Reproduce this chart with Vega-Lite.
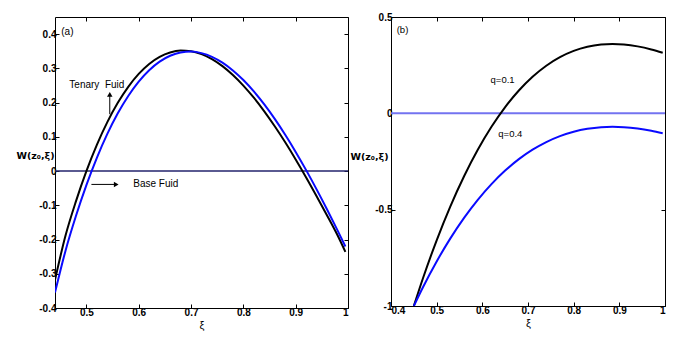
{
  "$schema": "https://vega.github.io/schema/vega-lite/v6.json",
  "background": "white",
  "padding": {"left": 15, "top": 11, "right": 5, "bottom": 5},
  "bounds": "flush",
  "spacing": 43,
  "config": {
    "view": {"stroke": "black", "strokeWidth": 1},
    "axis": {"domain": false, "grid": false, "tickColor": "black", "tickSize": -4, "labelFont": "Liberation Sans", "labelFontSize": 10, "labelFontWeight": "bold", "labelColor": "black", "labelPadding": 3, "titleFont": "Liberation Sans", "titleColor": "black"},
    "text": {"font": "Liberation Sans", "color": "black"}
  },
  "datasets": {
    "left": [
      {"x": 0.44, "y": -0.318, "s": "ternary"}, {"x": 0.46, "y": -0.189, "s": "ternary"}, {"x": 0.48, "y": -0.0884, "s": "ternary"}, {"x": 0.50, "y": 0, "s": "ternary"}, {"x": 0.52, "y": 0.0766, "s": "ternary"}, {"x": 0.54, "y": 0.1429, "s": "ternary"}, {"x": 0.56, "y": 0.1993, "s": "ternary"}, {"x": 0.58, "y": 0.2461, "s": "ternary"}, {"x": 0.60, "y": 0.2838, "s": "ternary"}, {"x": 0.62, "y": 0.3129, "s": "ternary"}, {"x": 0.64, "y": 0.3336, "s": "ternary"}, {"x": 0.66, "y": 0.3464, "s": "ternary"}, {"x": 0.68, "y": 0.3518, "s": "ternary"}, {"x": 0.70, "y": 0.3501, "s": "ternary"}, {"x": 0.72, "y": 0.3417, "s": "ternary"}, {"x": 0.74, "y": 0.3271, "s": "ternary"}, {"x": 0.76, "y": 0.3066, "s": "ternary"}, {"x": 0.78, "y": 0.2807, "s": "ternary"}, {"x": 0.80, "y": 0.2497, "s": "ternary"}, {"x": 0.82, "y": 0.2142, "s": "ternary"}, {"x": 0.84, "y": 0.1744, "s": "ternary"}, {"x": 0.86, "y": 0.1308, "s": "ternary"}, {"x": 0.88, "y": 0.0839, "s": "ternary"}, {"x": 0.90, "y": 0.0339, "s": "ternary"}, {"x": 0.92, "y": -0.0186, "s": "ternary"}, {"x": 0.94, "y": -0.0734, "s": "ternary"}, {"x": 0.96, "y": -0.1298, "s": "ternary"}, {"x": 0.98, "y": -0.1877, "s": "ternary"}, {"x": 0.995, "y": -0.236, "s": "ternary"},
      {"x": 0.44, "y": -0.355, "s": "base"}, {"x": 0.46, "y": -0.2332, "s": "base"}, {"x": 0.48, "y": -0.1314, "s": "base"}, {"x": 0.50, "y": -0.0412, "s": "base"}, {"x": 0.52, "y": 0.0386, "s": "base"}, {"x": 0.54, "y": 0.1084, "s": "base"}, {"x": 0.56, "y": 0.1686, "s": "base"}, {"x": 0.58, "y": 0.2194, "s": "base"}, {"x": 0.60, "y": 0.2613, "s": "base"}, {"x": 0.62, "y": 0.2946, "s": "base"}, {"x": 0.64, "y": 0.3197, "s": "base"}, {"x": 0.66, "y": 0.3369, "s": "base"}, {"x": 0.68, "y": 0.3465, "s": "base"}, {"x": 0.70, "y": 0.3489, "s": "base"}, {"x": 0.72, "y": 0.3445, "s": "base"}, {"x": 0.74, "y": 0.3337, "s": "base"}, {"x": 0.76, "y": 0.3167, "s": "base"}, {"x": 0.78, "y": 0.2939, "s": "base"}, {"x": 0.80, "y": 0.2658, "s": "base"}, {"x": 0.82, "y": 0.2325, "s": "base"}, {"x": 0.84, "y": 0.1946, "s": "base"}, {"x": 0.86, "y": 0.1523, "s": "base"}, {"x": 0.88, "y": 0.1060, "s": "base"}, {"x": 0.90, "y": 0.0560, "s": "base"}, {"x": 0.92, "y": 0.0027, "s": "base"}, {"x": 0.94, "y": -0.0535, "s": "base"}, {"x": 0.96, "y": -0.1123, "s": "base"}, {"x": 0.98, "y": -0.1733, "s": "base"}, {"x": 0.995, "y": -0.2203, "s": "base"}
    ],
    "leftZero": [{"x": 0.44, "y": 0}, {"x": 1, "y": 0}],
    "leftText": [
      {"x": 0.452, "y": 0.405, "label": "(a)"},
      {"x": 0.4674, "y": 0.251, "label": "Tenary\u00a0 Fuid"},
      {"x": 0.5895, "y": -0.039, "label": "Base Fuid"}
    ],
    "leftArrows": [
      {"x": 0.5447, "y": 0.166, "x2": 0.5447, "y2": 0.222},
      {"x": 0.5096, "y": -0.039, "x2": 0.556, "y2": -0.039}
    ],
    "leftHeads": [
      {"x": 0.5447, "y": 0.224, "dir": "up"},
      {"x": 0.557, "y": -0.039, "dir": "right"}
    ],
    "right": [
      {"x": 0.45, "y": -1.0, "q": "q=0.1"}, {"x": 0.47, "y": -0.8562, "q": "q=0.1"}, {"x": 0.50, "y": -0.6589, "q": "q=0.1"}, {"x": 0.53, "y": -0.4826, "q": "q=0.1"}, {"x": 0.56, "y": -0.3264, "q": "q=0.1"}, {"x": 0.59, "y": -0.1892, "q": "q=0.1"}, {"x": 0.62, "y": -0.0700, "q": "q=0.1"}, {"x": 0.65, "y": 0.0323, "q": "q=0.1"}, {"x": 0.68, "y": 0.1185, "q": "q=0.1"}, {"x": 0.71, "y": 0.1898, "q": "q=0.1"}, {"x": 0.74, "y": 0.2471, "q": "q=0.1"}, {"x": 0.77, "y": 0.2914, "q": "q=0.1"}, {"x": 0.80, "y": 0.3239, "q": "q=0.1"}, {"x": 0.83, "y": 0.3455, "q": "q=0.1"}, {"x": 0.86, "y": 0.3571, "q": "q=0.1"}, {"x": 0.885, "y": 0.36, "q": "q=0.1"}, {"x": 0.91, "y": 0.3573, "q": "q=0.1"}, {"x": 0.94, "y": 0.3475, "q": "q=0.1"}, {"x": 0.97, "y": 0.3316, "q": "q=0.1"}, {"x": 0.995, "y": 0.3143, "q": "q=0.1"},
      {"x": 0.45, "y": -1.0, "q": "q=0.4"}, {"x": 0.47, "y": -0.9027, "q": "q=0.4"}, {"x": 0.50, "y": -0.7689, "q": "q=0.4"}, {"x": 0.53, "y": -0.6491, "q": "q=0.4"}, {"x": 0.56, "y": -0.5427, "q": "q=0.4"}, {"x": 0.59, "y": -0.4490, "q": "q=0.4"}, {"x": 0.62, "y": -0.3674, "q": "q=0.4"}, {"x": 0.65, "y": -0.2973, "q": "q=0.4"}, {"x": 0.68, "y": -0.2379, "q": "q=0.4"}, {"x": 0.71, "y": -0.1887, "q": "q=0.4"}, {"x": 0.74, "y": -0.1490, "q": "q=0.4"}, {"x": 0.77, "y": -0.1181, "q": "q=0.4"}, {"x": 0.80, "y": -0.0954, "q": "q=0.4"}, {"x": 0.83, "y": -0.0803, "q": "q=0.4"}, {"x": 0.86, "y": -0.0720, "q": "q=0.4"}, {"x": 0.885, "y": -0.07, "q": "q=0.4"}, {"x": 0.91, "y": -0.0719, "q": "q=0.4"}, {"x": 0.94, "y": -0.0789, "q": "q=0.4"}, {"x": 0.97, "y": -0.0905, "q": "q=0.4"}, {"x": 0.995, "y": -0.1031, "q": "q=0.4"}
    ],
    "rightZero": [{"x": 0.4, "y": 0}, {"x": 1, "y": 0}],
    "rightText": [
      {"x": 0.4125, "y": 0.433, "label": "(b)"},
      {"x": 0.618, "y": 0.1715, "label": "q=0.1"},
      {"x": 0.635, "y": -0.109, "label": "q=0.4"}
    ]
  },
  "hconcat": [
    {
      "width": 293,
      "height": 291,
      "resolve": {"axis": {"x": "independent", "y": "independent"}},
      "layer": [
        {
          "data": {"name": "leftZero"},
          "mark": {"type": "line", "color": "#23236c", "strokeWidth": 1.5},
          "encoding": {
            "x": {"field": "x", "type": "quantitative", "scale": {"domain": [0.44, 1], "nice": false, "zero": false}, "axis": {"orient": "top", "values": [0.5, 0.6, 0.7, 0.8, 0.9, 1], "labels": false, "title": null}},
            "y": {"field": "y", "type": "quantitative", "scale": {"domain": [-0.4, 0.45], "nice": false}, "axis": {"orient": "right", "values": [-0.4, -0.3, -0.2, -0.1, 0, 0.1, 0.2, 0.3, 0.4], "labels": false, "title": null}}
          }
        },
        {
          "data": {"name": "left"},
          "mark": {"type": "line", "strokeWidth": 2, "interpolate": "monotone", "clip": true},
          "encoding": {
            "x": {"field": "x", "type": "quantitative", "axis": {"values": [0.5, 0.6, 0.7, 0.8, 0.9, 1], "labelExpr": "(datum.value < 0 ? '-' : '') + format(abs(datum.value), '~g')", "title": "ξ", "titleFontSize": 11, "titleFontWeight": "normal", "titlePadding": 2}},
            "y": {"field": "y", "type": "quantitative", "axis": {"values": [-0.4, -0.3, -0.2, -0.1, 0, 0.1, 0.2, 0.3, 0.4], "labelExpr": "(datum.value < 0 ? '-' : '') + format(abs(datum.value), '~g')", "title": "W(z₀,ξ)", "titleFont": "DejaVu Sans", "titleAngle": 0, "titleAlign": "left", "titleBaseline": "middle", "titleX": -39, "titleY": 138, "titleFontSize": 9.5, "titleFontWeight": "bold"}},
            "color": {"field": "s", "type": "nominal", "scale": {"domain": ["ternary", "base"], "range": ["#000000", "#0a0aff"]}, "legend": null}
          }
        },
        {
          "data": {"name": "leftArrows"},
          "mark": {"type": "rule", "color": "black", "strokeWidth": 1},
          "encoding": {
            "x": {"field": "x", "type": "quantitative", "axis": null},
            "y": {"field": "y", "type": "quantitative", "axis": null},
            "x2": {"field": "x2"},
            "y2": {"field": "y2"}
          }
        },
        {
          "data": {"name": "leftHeads"},
          "mark": {"type": "point", "filled": true, "color": "black", "size": 30, "opacity": 1},
          "encoding": {
            "x": {"field": "x", "type": "quantitative", "axis": null},
            "y": {"field": "y", "type": "quantitative", "axis": null},
            "shape": {"field": "dir", "type": "nominal", "scale": {"domain": ["up", "right"], "range": ["triangle-up", "triangle-right"]}, "legend": null}
          }
        },
        {
          "data": {"name": "leftText"},
          "mark": {"type": "text", "align": "left", "baseline": "middle", "fontSize": 10},
          "encoding": {
            "x": {"field": "x", "type": "quantitative", "axis": null},
            "y": {"field": "y", "type": "quantitative", "axis": null},
            "text": {"field": "label"}
          }
        }
      ]
    },
    {
      "width": 274,
      "height": 289,
      "resolve": {"axis": {"x": "independent", "y": "independent"}},
      "layer": [
        {
          "data": {"name": "rightZero"},
          "mark": {"type": "line", "color": "#7373f0", "strokeWidth": 2},
          "encoding": {
            "x": {"field": "x", "type": "quantitative", "scale": {"domain": [0.4, 1], "nice": false, "zero": false}, "axis": {"orient": "top", "values": [0.4, 0.5, 0.6, 0.7, 0.8, 0.9, 1], "labels": false, "title": null}},
            "y": {"field": "y", "type": "quantitative", "scale": {"domain": [-1, 0.5], "nice": false}, "axis": {"orient": "right", "values": [-1, -0.5, 0, 0.5], "labels": false, "title": null}}
          }
        },
        {
          "data": {"name": "right"},
          "mark": {"type": "line", "strokeWidth": 2, "interpolate": "monotone", "clip": true},
          "encoding": {
            "x": {"field": "x", "type": "quantitative", "axis": {"values": [0.4, 0.5, 0.6, 0.7, 0.8, 0.9, 1], "labelExpr": "(datum.value < 0 ? '-' : '') + format(abs(datum.value), '~g')", "title": "ξ", "titleFontSize": 11, "titleFontWeight": "normal", "titlePadding": 2}},
            "y": {"field": "y", "type": "quantitative", "axis": {"values": [-1, -0.5, 0, 0.5], "labelExpr": "(datum.value < 0 ? '-' : '') + format(abs(datum.value), '~g')", "title": "W(z₀,ξ)", "titleFont": "DejaVu Sans", "titleAngle": 0, "titleAlign": "left", "titleBaseline": "middle", "titleX": -41, "titleY": 139, "titleFontSize": 9.5, "titleFontWeight": "bold"}},
            "color": {"field": "q", "type": "nominal", "scale": {"domain": ["q=0.1", "q=0.4"], "range": ["#000000", "#0a0aff"]}, "legend": null}
          }
        },
        {
          "data": {"name": "rightText"},
          "mark": {"type": "text", "align": "left", "baseline": "middle", "fontSize": 9.5},
          "encoding": {
            "x": {"field": "x", "type": "quantitative", "axis": null},
            "y": {"field": "y", "type": "quantitative", "axis": null},
            "text": {"field": "label"}
          }
        }
      ]
    }
  ]
}
